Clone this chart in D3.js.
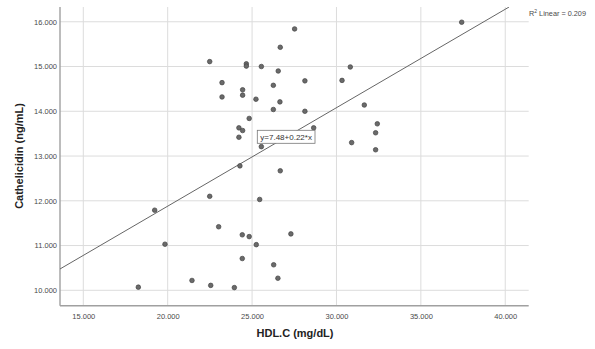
<!DOCTYPE html>
<html>
<head>
<meta charset="utf-8">
<script src="https://cdn.jsdelivr.net/npm/d3@7/dist/d3.min.js"></script>
<style>
  html, body { margin: 0; padding: 0; background: #fff; }
  svg { display: block; font-family: "Liberation Sans", Arial, sans-serif; }
</style>
</head>
<body>
<svg id="chart" width="595" height="349"></svg>
<script>
// HDL cholesterol vs. cathelicidin, one point per subject
const hdl = [
  22.49, 27.52, 26.67, 24.66, 24.66, 25.55, 26.55, 30.82, 23.22, 28.13,
  30.33, 26.26, 24.44, 24.44, 23.22, 25.23, 26.65, 31.65, 26.26, 28.13,
  24.83, 32.42, 24.22, 24.44, 32.32, 24.22, 28.65, 25.55, 30.90, 32.32,
  24.28, 26.67, 37.42, 19.23, 19.84, 18.26, 21.44, 22.49, 25.45, 23.02,
  24.42, 24.83, 27.30, 25.25, 24.42, 26.28, 22.55, 23.95, 26.53
];
const cathelicidin = [
  15.11, 15.84, 15.43, 15.06, 15.01, 15.00, 14.90, 14.99, 14.64, 14.68,
  14.69, 14.58, 14.48, 14.36, 14.32, 14.27, 14.21, 14.14, 14.04, 14.00,
  13.84, 13.72, 13.63, 13.57, 13.52, 13.42, 13.63, 13.21, 13.30, 13.14,
  12.78, 12.67, 15.99, 11.79, 11.03, 10.07, 10.22, 12.10, 12.03, 11.42,
  11.24, 11.20, 11.26, 11.02, 10.71, 10.57, 10.11, 10.06, 10.27
];

const xTicks = [15, 20, 25, 30, 35, 40];
const yTicks = [10, 11, 12, 13, 14, 15, 16];
const fitIntercept = 7.48;
const fitSlope = 0.22;
const rSquared = "0.209";
const xTitle = "HDL.C (mg/dL)";
const yTitle = "Cathelicidin (ng/mL)";

const svg = d3.select("#chart");
const plot = { left: 60, right: 528.7, top: 7, bottom: 305.7 };

const x = d3.scaleLinear().domain([13.62, 41.39]).range([plot.left, plot.right]);
const y = d3.scaleLinear().domain([9.656, 16.33]).range([plot.bottom, plot.top]);

const fmt = d3.format(".3f");

// Gridlines
svg.append("g").selectAll("line").data(yTicks).join("line")
  .attr("x1", plot.left).attr("x2", plot.right)
  .attr("y1", d => y(d)).attr("y2", d => y(d))
  .attr("stroke", "#dcdcdc").attr("stroke-width", 1);
svg.append("g").selectAll("line").data(xTicks).join("line")
  .attr("y1", plot.top).attr("y2", plot.bottom)
  .attr("x1", d => x(d)).attr("x2", d => x(d))
  .attr("stroke", "#dcdcdc").attr("stroke-width", 1);

// Axes
const yAxis = d3.axisLeft(y).tickValues(yTicks).tickSize(0).tickPadding(3).tickFormat(fmt);
const xAxis = d3.axisBottom(x).tickValues(xTicks).tickSize(0).tickPadding(8).tickFormat(fmt);

const gy = svg.append("g").attr("transform", `translate(${plot.left},0)`).call(yAxis);
gy.select(".domain").remove();
gy.selectAll("text").attr("font-size", "7.5px").attr("fill", "#4a4a4a")
  .attr("font-family", "'Liberation Sans', Arial, sans-serif");

const gx = svg.append("g").attr("transform", `translate(0,${plot.bottom})`).call(xAxis);
gx.select(".domain").remove();
gx.selectAll("text").attr("font-size", "7.5px").attr("fill", "#4a4a4a")
  .attr("font-family", "'Liberation Sans', Arial, sans-serif");

svg.append("line")
  .attr("x1", plot.left).attr("x2", plot.left)
  .attr("y1", plot.top).attr("y2", plot.bottom)
  .attr("stroke", "#a0a0a0").attr("stroke-width", 1.4);
svg.append("line")
  .attr("x1", plot.left).attr("x2", plot.right)
  .attr("y1", plot.bottom).attr("y2", plot.bottom)
  .attr("stroke", "#a0a0a0").attr("stroke-width", 1.4);

// Regression line, clipped to the plot area
svg.append("clipPath").attr("id", "plotClip").append("rect")
  .attr("x", plot.left).attr("y", plot.top)
  .attr("width", plot.right - plot.left).attr("height", plot.bottom - plot.top);

const fitX0 = x.domain()[0];
const fitX1 = (y.domain()[1] - fitIntercept) / fitSlope;
const fitLine = d3.line().x(d => x(d)).y(d => y(fitIntercept + fitSlope * d));
svg.append("path")
  .datum([fitX0, fitX1])
  .attr("d", fitLine)
  .attr("clip-path", "url(#plotClip)")
  .attr("fill", "none").attr("stroke", "#666").attr("stroke-width", 1);

// Points
svg.append("g").selectAll("circle").data(d3.range(hdl.length)).join("circle")
  .attr("cx", i => x(hdl[i])).attr("cy", i => y(cathelicidin[i]))
  .attr("r", 2.3)
  .attr("fill", "#6a6a6a").attr("stroke", "#444").attr("stroke-width", 0.7);

// Equation label
const eq = svg.append("g").attr("transform", "translate(257.3,130.3)");
eq.append("rect").attr("width", 57.7).attr("height", 13)
  .attr("fill", "#fff").attr("stroke", "#777").attr("stroke-width", 0.8);
eq.append("text").attr("x", 28.85).attr("y", 9.6).attr("text-anchor", "middle")
  .attr("font-size", "8px").attr("fill", "#333")
  .text(`y=${fitIntercept}+${fitSlope}*x`);

// R-squared note
const r2 = svg.append("text").attr("x", 529).attr("y", 15.5)
  .attr("font-size", "7.3px").attr("fill", "#4a4a4a");
r2.append("tspan").text("R");
r2.append("tspan").attr("font-size", "5px").attr("dy", -2.5).text("2");
r2.append("tspan").attr("dy", 2.5).text(" Linear = " + rSquared);

// Axis titles
svg.append("text").attr("x", 295).attr("y", 337)
  .attr("text-anchor", "middle").attr("font-size", "11px").attr("font-weight", "bold")
  .attr("fill", "#222").text(xTitle);
svg.append("text")
  .attr("transform", "translate(23,156) rotate(-90)")
  .attr("text-anchor", "middle").attr("font-size", "11px").attr("font-weight", "bold")
  .attr("fill", "#222").text(yTitle);
</script>
</body>
</html>
